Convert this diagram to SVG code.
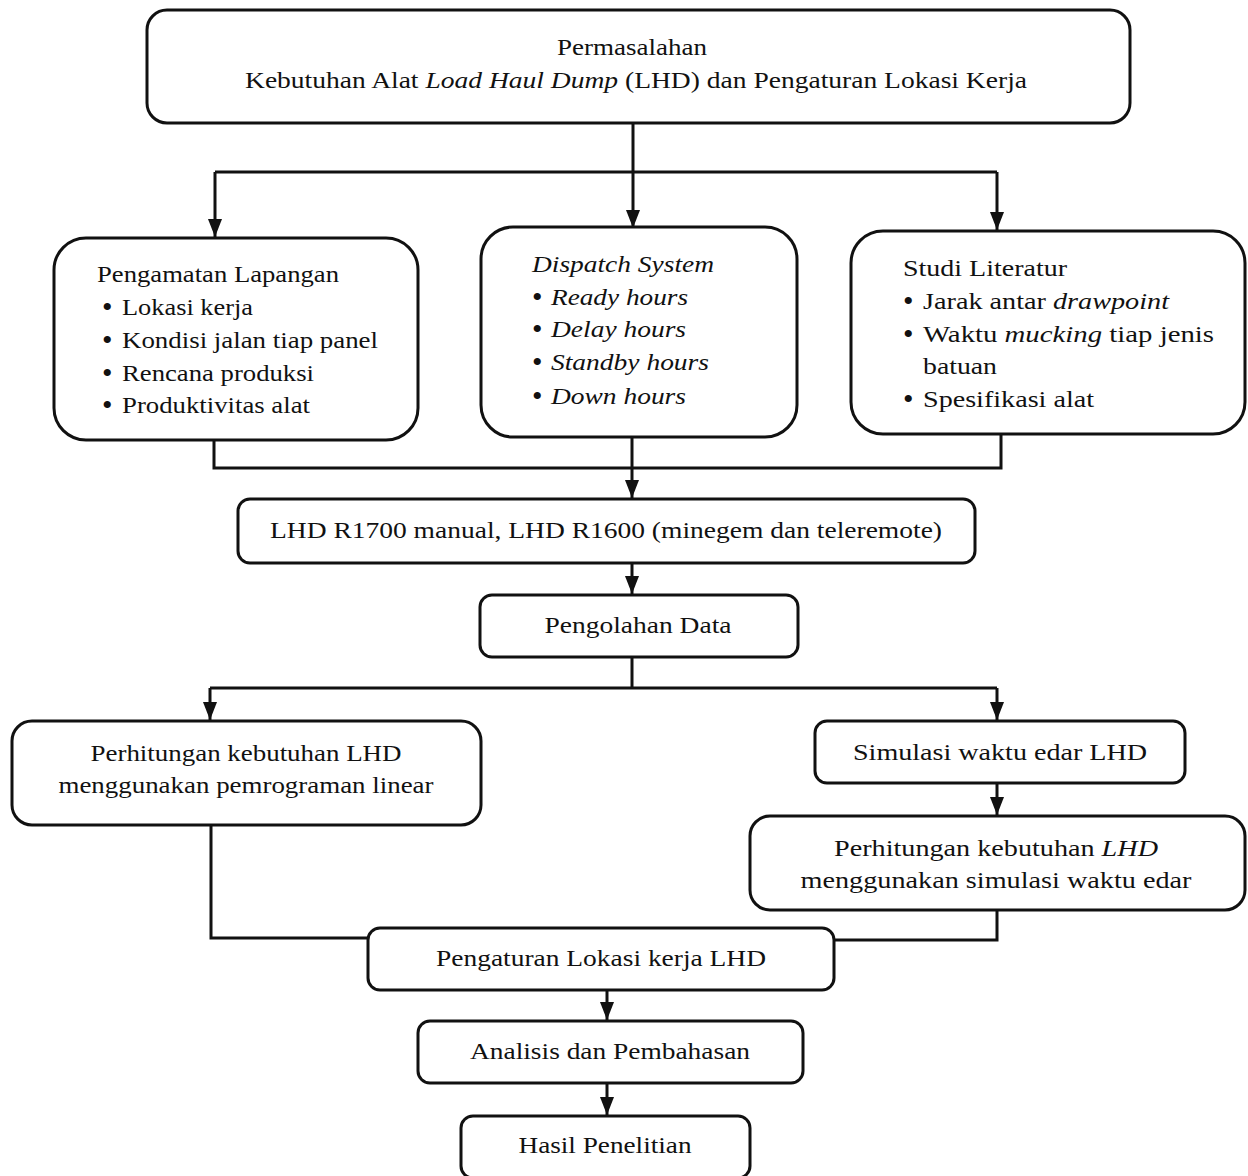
<svg xmlns="http://www.w3.org/2000/svg" width="1248" height="1176" viewBox="0 0 1248 1176">
<style>
.box{fill:#fff;stroke:#111;stroke-width:3}
.t{font-family:'Liberation Serif',Tinos,'Times New Roman',Times,serif;font-size:24px;fill:#111}
.c{text-anchor:middle}
.i{font-style:italic}
.b{font-family:'Liberation Serif',Tinos,serif;font-size:30px;fill:#111}
.ln{fill:none;stroke:#111;stroke-width:3}
</style>
<defs>
<marker id="ah" markerUnits="userSpaceOnUse" markerWidth="18" markerHeight="14" refX="18" refY="7" orient="auto">
<path d="M0,0 L18,7 L0,14 z" fill="#111"/>
</marker>
</defs>
<rect width="1248" height="1176" fill="#fff"/>
<g id="connectors">
<path class="ln" d="M633,123 V228" marker-end="url(#ah)"/>
<path class="ln" d="M215,172 H997"/>
<path class="ln" d="M215,172 V237" marker-end="url(#ah)"/>
<path class="ln" d="M997,172 V230" marker-end="url(#ah)"/>
<path class="ln" d="M214,440 V468 H1001 V434"/>
<path class="ln" d="M632,437 V498" marker-end="url(#ah)"/>
<path class="ln" d="M632,563 V594" marker-end="url(#ah)"/>
<path class="ln" d="M632,657 V688"/>
<path class="ln" d="M210,688 H997"/>
<path class="ln" d="M210,688 V720" marker-end="url(#ah)"/>
<path class="ln" d="M997,688 V720" marker-end="url(#ah)"/>
<path class="ln" d="M997,783 V815" marker-end="url(#ah)"/>
<path class="ln" d="M211,825 V938 H368"/>
<path class="ln" d="M997,910 V940 H833"/>
<path class="ln" d="M607,990 V1020" marker-end="url(#ah)"/>
<path class="ln" d="M607,1083 V1115" marker-end="url(#ah)"/>
</g>
<g id="n-permasalahan">
<rect class="box" x="147" y="10" width="983" height="113" rx="20"/>
<text class="t c" x="632" y="55" textLength="150" lengthAdjust="spacingAndGlyphs">Permasalahan</text>
<text class="t c" x="636" y="88" textLength="782" lengthAdjust="spacingAndGlyphs">Kebutuhan Alat <tspan class="i">Load Haul Dump</tspan> (LHD) dan Pengaturan Lokasi Kerja</text>
</g>
<g id="n-pengamatan">
<rect class="box" x="54" y="238" width="364" height="202" rx="32"/>
<text class="t" x="97" y="282" textLength="242" lengthAdjust="spacingAndGlyphs">Pengamatan Lapangan</text>
<text class="b" x="102" y="317">•</text><text class="t" x="122" y="315" textLength="131" lengthAdjust="spacingAndGlyphs">Lokasi kerja</text>
<text class="b" x="102" y="350">•</text><text class="t" x="122" y="348" textLength="256" lengthAdjust="spacingAndGlyphs">Kondisi jalan tiap panel</text>
<text class="b" x="102" y="383">•</text><text class="t" x="122" y="381" textLength="192" lengthAdjust="spacingAndGlyphs">Rencana produksi</text>
<text class="b" x="102" y="415">•</text><text class="t" x="122" y="413" textLength="188" lengthAdjust="spacingAndGlyphs">Produktivitas alat</text>
</g>
<g id="n-dispatch">
<rect class="box" x="481" y="227" width="316" height="210" rx="32"/>
<text class="t i" x="532" y="272" textLength="182" lengthAdjust="spacingAndGlyphs">Dispatch System</text>
<text class="b" x="532" y="307">•</text><text class="t i" x="551" y="305" textLength="137" lengthAdjust="spacingAndGlyphs">Ready hours</text>
<text class="b" x="532" y="339">•</text><text class="t i" x="551" y="337" textLength="135" lengthAdjust="spacingAndGlyphs">Delay hours</text>
<text class="b" x="532" y="372">•</text><text class="t i" x="551" y="370" textLength="158" lengthAdjust="spacingAndGlyphs">Standby hours</text>
<text class="b" x="532" y="406">•</text><text class="t i" x="551" y="404" textLength="135" lengthAdjust="spacingAndGlyphs">Down hours</text>
</g>
<g id="n-studi">
<rect class="box" x="851" y="231" width="394" height="203" rx="32"/>
<text class="t" x="903" y="276" textLength="164" lengthAdjust="spacingAndGlyphs">Studi Literatur</text>
<text class="b" x="903" y="311">•</text><text class="t" x="923" y="309" textLength="246" lengthAdjust="spacingAndGlyphs">Jarak antar <tspan class="i">drawpoint</tspan></text>
<text class="b" x="903" y="344">•</text><text class="t" x="923" y="342" textLength="291" lengthAdjust="spacingAndGlyphs">Waktu <tspan class="i">mucking</tspan> tiap jenis</text>
<text class="t" x="923" y="374" textLength="74" lengthAdjust="spacingAndGlyphs">batuan</text>
<text class="b" x="903" y="409">•</text><text class="t" x="923" y="407" textLength="171" lengthAdjust="spacingAndGlyphs">Spesifikasi alat</text>
</g>
<g id="n-lhd">
<rect class="box" x="238" y="499" width="737" height="64" rx="12"/>
<text class="t c" x="606" y="538" textLength="672" lengthAdjust="spacingAndGlyphs">LHD R1700 manual, LHD R1600 (minegem dan teleremote)</text>
</g>
<g id="n-pengolahan">
<rect class="box" x="480" y="595" width="318" height="62" rx="12"/>
<text class="t c" x="638" y="633" textLength="187" lengthAdjust="spacingAndGlyphs">Pengolahan Data</text>
</g>
<g id="n-linear">
<rect class="box" x="12" y="721" width="469" height="104" rx="20"/>
<text class="t c" x="246" y="761" textLength="311" lengthAdjust="spacingAndGlyphs">Perhitungan kebutuhan LHD</text>
<text class="t c" x="246" y="793" textLength="375" lengthAdjust="spacingAndGlyphs">menggunakan pemrograman linear</text>
</g>
<g id="n-simulasi">
<rect class="box" x="815" y="721" width="370" height="62" rx="12"/>
<text class="t c" x="1000" y="760" textLength="294" lengthAdjust="spacingAndGlyphs">Simulasi waktu edar LHD</text>
</g>
<g id="n-simhitung">
<rect class="box" x="750" y="816" width="495" height="94" rx="20"/>
<text class="t c" x="996" y="856" textLength="324" lengthAdjust="spacingAndGlyphs">Perhitungan kebutuhan <tspan class="i">LHD</tspan></text>
<text class="t c" x="996" y="888" textLength="391" lengthAdjust="spacingAndGlyphs">menggunakan simulasi waktu edar</text>
</g>
<g id="n-pengaturan">
<rect class="box" x="368" y="928" width="466" height="62" rx="12"/>
<text class="t c" x="601" y="966" textLength="330" lengthAdjust="spacingAndGlyphs">Pengaturan Lokasi kerja LHD</text>
</g>
<g id="n-analisis">
<rect class="box" x="418" y="1021" width="385" height="62" rx="12"/>
<text class="t c" x="610" y="1059" textLength="280" lengthAdjust="spacingAndGlyphs">Analisis dan Pembahasan</text>
</g>
<g id="n-hasil">
<rect class="box" x="461" y="1116" width="289" height="62" rx="12"/>
<text class="t c" x="605" y="1153" textLength="173" lengthAdjust="spacingAndGlyphs">Hasil Penelitian</text>
</g>
</svg>
